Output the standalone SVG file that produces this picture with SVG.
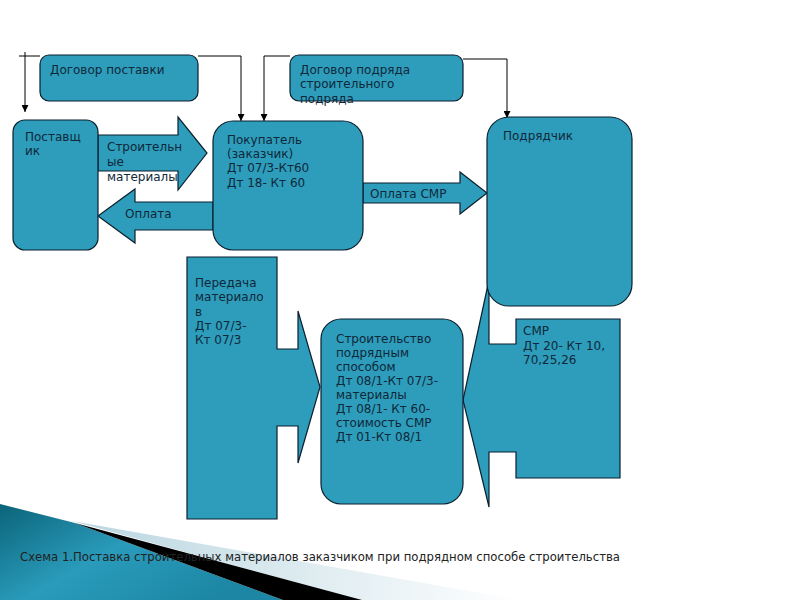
<svg xmlns="http://www.w3.org/2000/svg" width="800" height="600" viewBox="0 0 800 600">
<defs>
<style>
.shape{fill:#2d9dbb;stroke:#0b1f2e;stroke-width:1.2;}
.lbl{font-family:"DejaVu Sans","Liberation Sans",sans-serif;font-size:12px;fill:#10283a;}
.conn{fill:none;stroke:#000;stroke-width:1;}
.cap{font-family:"DejaVu Sans Condensed","DejaVu Sans",sans-serif;font-size:11.5px;fill:#222;}
</style>
<marker id="ah" viewBox="0 0 10 10" refX="10" refY="5" markerWidth="7" markerHeight="7" markerUnits="userSpaceOnUse" orient="auto">
<path d="M0,0 L10,5 L0,10 z" fill="#000"/>
</marker>
<linearGradient id="teal" x1="0" y1="0" x2="1" y2="0.6">
<stop offset="0" stop-color="#0b6479"/>
<stop offset="0.5" stop-color="#2a9bbb"/>
<stop offset="1" stop-color="#1c86a4"/>
</linearGradient>
<linearGradient id="pale" x1="0" y1="0" x2="1" y2="0">
<stop offset="0" stop-color="#b9d6e0"/>
<stop offset="1" stop-color="#ffffff"/>
</linearGradient>
</defs>
<rect width="800" height="600" fill="#fff"/>

<!-- decoration -->
<g id="decoration">
<polygon points="72,521 520,600 360,600" fill="url(#pale)"/>
<polygon points="0,504 75,523 283,600 0,600" fill="url(#teal)"/>
<polygon points="75,523 362,600 283,600" fill="#000"/>
</g>

<!-- connectors -->
<g id="connectors">
<path class="conn" d="M19,56 H40"/>
<path class="conn" d="M25,52 V112" marker-end="url(#ah)"/>
<path class="conn" d="M198,56 H241 V121" marker-end="url(#ah)"/>
<path class="conn" d="M290,56 H264 V121" marker-end="url(#ah)"/>
<path class="conn" d="M463,59 H507 V118" marker-end="url(#ah)"/>
</g>

<!-- block arrows -->
<g id="arrow-materials">
<polygon class="shape" points="98,135 178,135 178,117 207,153 178,190 178,171 98,171"/>
<text class="lbl"><tspan x="107" y="151">Строительн</tspan><tspan x="107" y="166">ые</tspan><tspan x="107" y="181">материалы</tspan></text>
</g>
<g id="arrow-payment">
<polygon class="shape" points="213,202 135,202 135,189 98,216 135,243 135,230 213,230"/>
<text class="lbl" x="125" y="218">Оплата</text>
</g>
<g id="arrow-payment-smr">
<polygon class="shape" points="363,183 460,183 460,172 487,193 460,214 460,203 363,203"/>
<text class="lbl" x="370" y="198">Оплата СМР</text>
</g>
<g id="transfer">
<polygon class="shape" points="187,257 277,257 277,349 298,349 298,311 320,387 298,463 298,426 277,426 277,519 187,519"/>
<text class="lbl"><tspan x="195" y="287">Передача</tspan><tspan x="195" y="301">материало</tspan><tspan x="195" y="316">в</tspan><tspan x="195" y="330">Дт 07/3-</tspan><tspan x="195" y="344">Кт 07/3</tspan></text>
</g>
<g id="smr">
<polygon class="shape" points="620,319 516,319 516,344 489,344 489,280 463,400 489,507 489,452 516,452 516,478 620,478"/>
<text class="lbl"><tspan x="523" y="335">СМР</tspan><tspan x="523" y="350">Дт 20- Кт 10,</tspan><tspan x="523" y="364">70,25,26</tspan></text>
</g>

<!-- nodes -->
<g id="supply-contract">
<rect class="shape" x="40" y="55" width="158" height="46" rx="9"/>
<text class="lbl" x="50" y="74">Договор поставки</text>
</g>
<g id="work-contract">
<rect class="shape" x="290" y="55" width="173" height="46" rx="9"/>
<text class="lbl"><tspan x="300" y="74">Договор подряда</tspan><tspan x="300" y="88">строительного</tspan><tspan x="300" y="103">подряда</tspan></text>
</g>
<g id="supplier">
<rect class="shape" x="13" y="120" width="85" height="130" rx="12"/>
<text class="lbl"><tspan x="25" y="141">Поставщ</tspan><tspan x="25" y="155">ик</tspan></text>
</g>
<g id="buyer">
<rect class="shape" x="213" y="121" width="150" height="129" rx="20"/>
<text class="lbl"><tspan x="227" y="144">Покупатель</tspan><tspan x="227" y="158">(заказчик)</tspan><tspan x="227" y="172">Дт 07/3-Кт60</tspan><tspan x="227" y="187">Дт 18- Кт 60</tspan></text>
</g>
<g id="contractor">
<rect class="shape" x="487" y="117" width="145" height="189" rx="22"/>
<text class="lbl" x="503" y="140">Подрядчик</text>
</g>
<g id="construction">
<rect class="shape" x="321" y="319" width="142" height="185" rx="20"/>
<text class="lbl"><tspan x="336" y="343">Строительство</tspan><tspan x="336" y="357">подрядным</tspan><tspan x="336" y="371">способом</tspan><tspan x="336" y="385">Дт 08/1-Кт 07/3-</tspan><tspan x="336" y="399">материалы</tspan><tspan x="336" y="413">Дт 08/1- Кт 60-</tspan><tspan x="336" y="427">стоимость СМР</tspan><tspan x="336" y="441">Дт 01-Кт 08/1</tspan></text>
</g>

<text class="cap" x="20" y="561" textLength="600" lengthAdjust="spacingAndGlyphs">Схема 1.Поставка строительных материалов заказчиком при подрядном способе строительства</text>
</svg>
